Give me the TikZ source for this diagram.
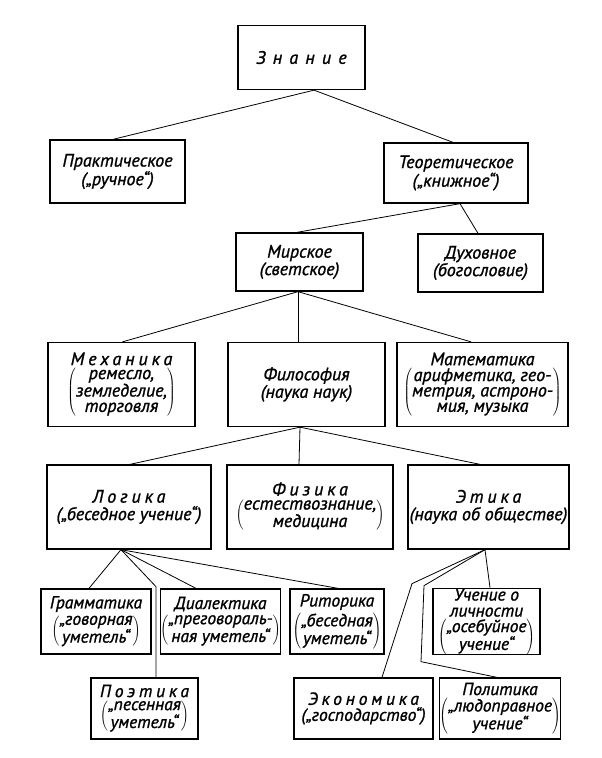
\documentclass[tikz,border=0pt]{standalone}
\usepackage{fontspec}
\setmainfont{PT Sans}[ItalicFeatures={FakeBold=1.2}]
\usepackage{tikz}

\newcommand{\skob}[1]{$\left(\renewcommand{\arraystretch}{0.88}\begin{tabular}{@{}c@{}}#1\end{tabular}\right)$}
\newcommand{\razr}[1]{{\addfontfeature{LetterSpace=22}#1}}

\begin{document}
\begin{tikzpicture}[x=1pt, y=-1pt,
  blok/.style={draw, rectangle, line width=1.3pt, inner sep=0pt, align=center, font=\itshape\fontsize{18}{17.5}\selectfont},
  melk/.style={blok, font=\itshape\fontsize{17.5}{16}\selectfont},
  svyaz/.style={line width=0.8pt}]
\useasboundingbox (0,0) rectangle (602,758);

\node[blok, minimum width=127pt, minimum height=64pt] (znanie) at (301.5, 57.5) {{\addfontfeature{LetterSpace=40}Знание}};

\node[blok, minimum width=135pt, minimum height=63pt] (prakt) at (117.5, 171.5) {Практическое\\(„ручное“)};
\node[blok, minimum width=144pt, minimum height=60pt] (teor) at (456, 173) {Теоретическое\\(„книжное“)};

\node[blok, minimum width=127pt, minimum height=58pt] (mirsk) at (299.5, 262) {Мирское\\(светское)};
\node[blok, minimum width=125pt, minimum height=58pt] (dukhov) at (480.5, 263) {Духовное\\(богословие)};

\node[blok, minimum width=147pt, minimum height=84pt] (mekh) at (121.5, 384.5) {\razr{Механика}\\[2pt]\skob{ремесло,\\земледелие,\\торговля}};
\node[blok, minimum width=157pt, minimum height=84pt] (filos) at (306.5, 384.5) {Философия\\(наука наук)};
\node[blok, minimum width=171pt, minimum height=84pt] (matem) at (482.5, 384.5) {Математика\\[2pt]\skob{арифметика, гео-\\метрия, астроно-\\мия, музыка}};

\node[blok, minimum width=164pt, minimum height=84pt] (logika) at (129, 507) {\razr{Логика}\\(„беседное учение“)};
\node[blok, minimum width=166pt, minimum height=84pt] (fizika) at (310, 507) {\razr{Физика}\\[2pt]\skob{естествознание,\\медицина}};
\node[blok, minimum width=161pt, minimum height=84pt] (etika) at (488.5, 507) {\razr{Этика}\\(наука об обществе)};

\node[melk, minimum width=110pt, minimum height=65pt] (gramm) at (96, 621.5) {Грамматика\\[2pt]\skob{„говорная\\уметель“}};
\node[melk, minimum width=115pt, minimum height=65pt] (dialek) at (220.5, 621.5) {Диалектика\\[2pt]\skob{„преговораль-\\ная уметель“}};
\node[melk, minimum width=94pt, minimum height=65pt] (ritor) at (337, 621.5) {Риторика\\[2pt]\skob{„беседная\\уметель“}};
\node[melk, minimum width=107pt, minimum height=65pt] (uchen) at (486.5, 621.5) {Учение о\\личности\\[1pt]\skob{„осебуйное\\учение“}};

\node[melk, minimum width=107pt, minimum height=61pt] (poet) at (144.5, 708.5) {\razr{Поэтика}\\[2pt]\skob{„песенная\\уметель“}};
\node[melk, minimum width=139pt, minimum height=61pt] (ekon) at (363.5, 708.5) {\razr{Экономика}\\(„господарство“)};
\node[melk, minimum width=110pt, minimum height=61pt] (polit) at (500, 708.5) {Политика\\[2pt]\skob{„людоправное\\учение“}};

% svyazi
\draw[svyaz] ([xshift=12.5pt]znanie.south) -- ([xshift=-4.5pt]prakt.north);
\draw[svyaz] ([xshift=12.5pt]znanie.south) -- ([xshift=-3pt]teor.north);

\draw[svyaz] ([xshift=4pt]teor.south) -- ([xshift=-2.5pt]mirsk.north);
\draw[svyaz] ([xshift=4pt]teor.south) -- ([xshift=-2.5pt]dukhov.north);

\draw[svyaz] ([xshift=-1.5pt]mirsk.south) -- ([xshift=1pt]mekh.north);
\draw[svyaz] ([xshift=-1.5pt]mirsk.south) -- ([xshift=-8.5pt]filos.north);
\draw[svyaz] ([xshift=-1.5pt]mirsk.south) -- ([xshift=-11.5pt]matem.north);

\draw[svyaz] ([xshift=-6.5pt]filos.south) -- ([xshift=1pt]logika.north);
\draw[svyaz] ([xshift=-6.5pt]filos.south) -- ([xshift=-11pt]fizika.north);
\draw[svyaz] ([xshift=-6.5pt]filos.south) -- ([xshift=-8.5pt]etika.north);

\draw[svyaz] ([xshift=-8pt]logika.south) -- ([xshift=-7pt]gramm.north);
\draw[svyaz] ([xshift=-8pt]logika.south) -- ([xshift=-24.5pt]dialek.north);
\draw[svyaz] ([xshift=-8pt]logika.south) -- ([xshift=1pt]ritor.north);
\draw[svyaz] ([xshift=-8pt]logika.south) -- ++(35,37) -- ([xshift=11.5pt]poet.north);

\draw[svyaz] ([xshift=-3.5pt]etika.south) -- ([xshift=3.5pt]uchen.north);
\draw[svyaz] ([xshift=-3.5pt]etika.south) -- ++(-73,34) -- ([xshift=18.5pt]ekon.north);
\draw[svyaz] ([xshift=-3.5pt]etika.south) -- ++(-61,36) -- ++(-3,76) -- ([xshift=-3pt]polit.north);
\end{tikzpicture}
\end{document}
